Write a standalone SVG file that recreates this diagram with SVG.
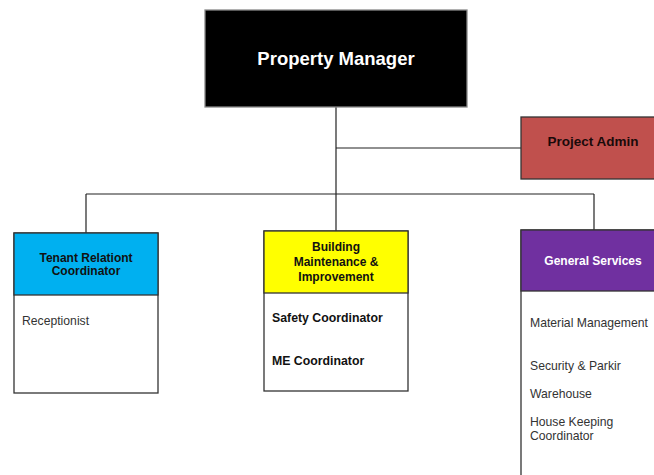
<svg xmlns="http://www.w3.org/2000/svg" width="654" height="475" viewBox="0 0 654 475">
<style>
.t{font-family:"Liberation Sans",Arial,sans-serif;font-weight:bold;text-anchor:middle}
.i{font-family:"Liberation Sans",Arial,sans-serif;font-size:12.2px;fill:#333}
.ib{font-family:"Liberation Sans",Arial,sans-serif;font-size:12.3px;font-weight:bold;fill:#111}
.b{stroke:#333;stroke-width:1.3}
.c{stroke:#222;stroke-width:1.2;fill:none}
</style>
<rect width="654" height="475" fill="#fff"/>
<g id="connectors">
<line class="c" x1="336" y1="107" x2="336" y2="231"/>
<line class="c" x1="336" y1="148" x2="521" y2="148"/>
<line class="c" x1="86" y1="194" x2="594" y2="194"/>
<line class="c" x1="86" y1="194" x2="86" y2="233"/>
<line class="c" x1="594" y1="194" x2="594" y2="230"/>
</g>
<g id="property-manager">
<rect x="205" y="10" width="262" height="97" fill="#000" stroke="#888" stroke-width="1.3"/>
<text class="t" x="336" y="65" font-size="18.5" fill="#fff">Property Manager</text>
</g>
<g id="project-admin">
<rect class="b" x="521" y="117" width="145" height="62" fill="#c0504d"/>
<text class="t" x="593" y="146" font-size="13.5" fill="#1a0a0a">Project Admin</text>
</g>
<g id="tenant">
<rect class="b" x="14" y="233" width="144" height="160" fill="#fff"/>
<rect class="b" x="14" y="233" width="144" height="62" fill="#00b0f0"/>
<text class="t" x="86" y="262" font-size="12" fill="#111">Tenant Relationt</text>
<text class="t" x="86" y="275" font-size="12" fill="#111">Coordinator</text>
<text class="i" x="22" y="325">Receptionist</text>
</g>
<g id="building">
<rect class="b" x="264" y="231" width="144" height="160" fill="#fff"/>
<rect class="b" x="264" y="231" width="144" height="62" fill="#ffff00"/>
<text class="t" x="336" y="251" font-size="12" fill="#111">Building</text>
<text class="t" x="336" y="266" font-size="12" fill="#111">Maintenance &amp;</text>
<text class="t" x="336" y="281" font-size="12" fill="#111">Improvement</text>
<text class="ib" x="272" y="322">Safety Coordinator</text>
<text class="ib" x="272" y="365">ME Coordinator</text>
</g>
<g id="general-services">
<rect class="b" x="521" y="230" width="145" height="260" fill="#fff"/>
<rect class="b" x="521" y="230" width="145" height="61" fill="#7030a0"/>
<text class="t" x="593" y="265" font-size="12" fill="#fff">General Services</text>
<text class="i" x="530" y="327">Material Management</text>
<text class="i" x="530" y="370">Security &amp; Parkir</text>
<text class="i" x="530" y="398">Warehouse</text>
<text class="i" x="530" y="426">House Keeping</text>
<text class="i" x="530" y="440">Coordinator</text>
</g>
</svg>
